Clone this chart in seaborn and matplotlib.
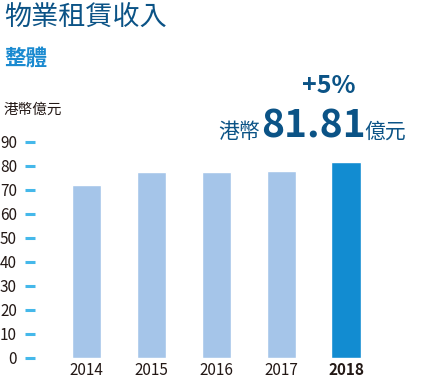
import matplotlib
matplotlib.use("Agg")
import matplotlib.pyplot as plt
import pandas as pd
import seaborn as sns

# data
years = ["2014", "2015", "2016", "2017", "2018"]
revenue = [72.2, 77.5, 77.4, 77.8, 81.81]
yticks = [0, 10, 20, 30, 40, 50, 60, 70, 80, 90]

sns.set_style("white")
plt.rcParams['font.family'] = ['Noto Sans CJK TC', 'DejaVu Sans']

W, H = 432, 380
fig = plt.figure(figsize=(W / 100, H / 100), dpi=100)
ax = fig.add_axes([35 / W, 22 / H, 365 / W, 216 / H])

df = pd.DataFrame({'year': years, 'value': revenue})
pal = ['#a5c5e9'] * 4 + ['#128cd1']
sns.barplot(data=df, x='year', y='value', hue='year', palette=pal, legend=False,
            width=0.45, ax=ax, saturation=1)

ax.set_xlim(-0.79, 4.83)
ax.set_ylim(0, 90)
ax.set_yticks(yticks)
ax.set_xlabel('')
ax.set_ylabel('')
for s in ax.spines.values():
    s.set_visible(False)
ax.tick_params(axis='y', length=7, width=2.2, color='#45b8ea', pad=6,
               labelsize=11, labelcolor='#231815', left=True)
ax.tick_params(axis='x', length=0, pad=3, labelsize=11, labelcolor='#231815')
for lbl in ax.get_xticklabels():
    if lbl.get_text() == '2018':
        lbl.set_fontweight('bold')

def px(x, y):
    return x / W, 1 - y / H

dark = '#0b5386'
fig.text(*px(4, 18), '物業租賃收入', fontsize=19.5, color=dark, va='center', ha='left')
fig.text(*px(4, 58), '整體', fontsize=15.5, color='#1a8ad0', va='center', ha='left', fontweight='bold')
fig.text(*px(4, 110), '港幣億元', fontsize=10.5, color='#231815', va='center', ha='left')

fig.text(*px(329, 86), '+5%', fontsize=18, color=dark, va='center', ha='center', fontweight='bold')
fig.text(*px(260, 138), '港幣', fontsize=15, color=dark, va='baseline', ha='right')
fig.text(*px(261, 138), '81.81', fontsize=28, color=dark, va='baseline', ha='left', fontweight='bold')
fig.text(*px(364, 138), '億元', fontsize=15, color=dark, va='baseline', ha='left')

fig.savefig('out.png', dpi=100)
